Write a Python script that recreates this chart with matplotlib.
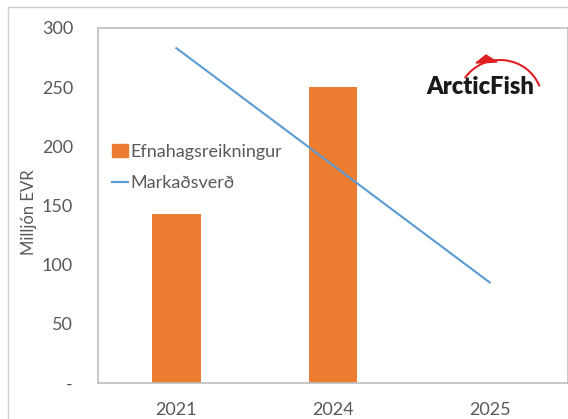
import matplotlib.pyplot as plt
import matplotlib.patches as mpatches
from matplotlib.lines import Line2D
import numpy as np

# ---------------- DATA ----------------
years = ["2021", "2024", "2025"]
balance_sheet = [143, 250, 0]        # Efnahagsreikningur (bars)
market_value = [283, 184, 85]        # Markaðsverð (line)
y_ticks = [0, 50, 100, 150, 200, 250, 300]
y_tick_labels = ["-", "50", "100", "150", "200", "250", "300"]
# --------------------------------------

ORANGE = "#ed7d31"
BLUE = "#5b9bd5"
GREY_TXT = "#595959"
FONT = ["Lato", "DejaVu Sans"]

plt.rcParams["font.family"] = FONT

fig = plt.figure(figsize=(5.68, 4.19), dpi=100)
ax = fig.add_axes([98 / 568, 36 / 419, 470 / 568, 355 / 419])

x = np.arange(len(years))
ax.bar(x[:2], balance_sheet[:2], width=0.31, color=ORANGE, zorder=2)
ax.plot(x, market_value, color=BLUE, lw=1.5, zorder=3)

ax.set_xlim(-0.5, len(years) - 0.5)
ax.set_ylim(0, 300)
ax.set_xticks(x)
ax.set_xticklabels(years)
ax.set_yticks(y_ticks)
ax.set_yticklabels(y_tick_labels)
ax.tick_params(axis="both", length=0, labelsize=13, colors=GREY_TXT)
ax.tick_params(axis="y", pad=18)
ax.tick_params(axis="x", pad=14)
for s in ax.spines.values():
    s.set_color("#bfbfbf")
    s.set_linewidth(1.2)

ax.set_ylabel("Milljón EVR", fontsize=12, color=GREY_TXT)
ax.yaxis.set_label_coords(-0.13, 0.48)

handles = [mpatches.Patch(color=ORANGE, label="Efnahagsreikningur"),
           Line2D([0], [0], color=BLUE, lw=1.5, label="Markaðsverð")]
leg = ax.legend(handles=handles, loc="upper left", bbox_to_anchor=(-0.005, 0.72),
                frameon=False, fontsize=13, handlelength=0.9, handletextpad=0.15,
                labelspacing=0.85, labelcolor=GREY_TXT)

# logo approximation
fig.text(480 / 568, 1 - 87 / 419, "ArcticFish", ha="center", va="center",
         fontsize=17, fontweight="heavy", color="#1a1a1a", family=FONT)
arc = mpatches.Arc((500 / 568, 1 - 100 / 419), 84 / 568, 80 / 419, theta1=25, theta2=140,
                   color="#e02020", lw=1.5, transform=fig.transFigure)
fig.add_artist(arc)
fin = mpatches.Polygon([(476 / 568, 1 - 63 / 419), (486 / 568, 1 - 55 / 419),
                        (497 / 568, 1 - 62 / 419)], closed=True, color="#e02020",
                       transform=fig.transFigure)
fig.add_artist(fin)

# outer frame of the screenshot
frame = mpatches.Rectangle((8 / 568, -0.1), 1.2, 1 - 7 / 419 + 0.1, fill=False,
                           edgecolor="#d0d0d0", lw=1, transform=fig.transFigure)
fig.add_artist(frame)

fig.savefig("out.png", dpi=100)
